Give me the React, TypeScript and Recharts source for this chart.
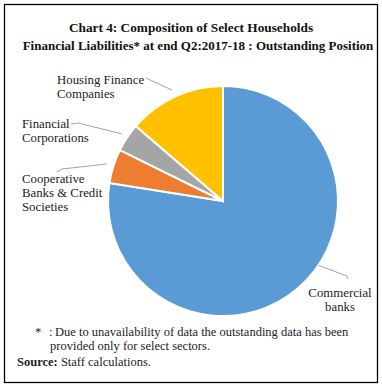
import { PieChart, Pie, Cell } from "recharts";

// shares (per cent of total)
const sectors = [
  "Commercial banks",
  "Cooperative Banks & Credit Societies",
  "Financial Corporations",
  "Housing Finance Companies",
];
const shares = [77.5, 4.8, 4.0, 13.7];
const labelText = [
  ["Commercial", "banks"],
  ["Cooperative", "Banks & Credit", "Societies"],
  ["Financial", "Corporations"],
  ["Housing Finance", "Companies"],
];
const titleLines = [
  "Chart 4: Composition of Select Households",
  "Financial Liabilities* at end Q2:2017-18 : Outstanding Position",
];
const noteLines = [
  "Due to unavailability of data the outstanding data has been",
  "provided only for select sectors.",
];
const sourceText = "Staff calculations.";

const COLORS = ["#5B9BD5", "#ED7D31", "#A5A5A5", "#FFC000"];
const FONT = "'Liberation Serif', 'Times New Roman', serif";
const RAD = Math.PI / 180;

// leader line / label placement relative to the pie centre
const labelLayout = [
  { angle: -34, gap: 0, elbow: [124, 75], end: [125, 78], x: 117, y: 92, anchor: "middle" },
  { angle: null, gap: 7, elbow: [-161, -32], end: [-166, -29], x: -201, y: -22, anchor: "start" },
  { angle: null, gap: 7, elbow: [-145, -78], end: [-152, -77], x: -201, y: -77, anchor: "start" },
  { angle: null, gap: 7, elbow: [-75, -122], end: [-77, -123], x: -166, y: -121, anchor: "start" },
];

const data = sectors.map((name, i) => ({ name, value: shares[i] }));

const renderLabel = (props: any) => {
  const { cx, cy, midAngle, outerRadius, index } = props;
  const l = labelLayout[index];
  const a = (l.angle ?? midAngle) * RAD;
  const r = outerRadius + l.gap;
  const sx = cx + Math.cos(a) * r;
  const sy = cy - Math.sin(a) * r;
  const pts = `${sx},${sy} ${cx + l.elbow[0]},${cy + l.elbow[1]} ${cx + l.end[0]},${cy + l.end[1]}`;
  return (
    <g key={`lbl-${index}`}>
      <polyline points={pts} fill="none" stroke="#8c8c8c" strokeWidth={0.8} />
      {labelText[index].map((t, j) => (
        <text
          key={j}
          x={cx + l.x}
          y={cy + l.y + j * 14 + 4}
          textAnchor={l.anchor as any}
          fontFamily={FONT}
          fontSize={12.8}
          fill="#222"
        >
          {t}
        </text>
      ))}
    </g>
  );
};

export default function App() {
  return (
    <div style={{ position: "absolute", left: 0, top: 0, width: 382, height: 387, background: "#fff" }}>
      <PieChart width={382} height={387} style={{ position: "absolute", left: 0, top: 0 }}>
        <Pie
          data={data}
          dataKey="value"
          nameKey="name"
          cx={218}
          cy={196}
          outerRadius={115}
          startAngle={90}
          endAngle={-270}
          stroke="#ffffff"
          strokeWidth={2}
          label={renderLabel}
          labelLine={false}
          isAnimationActive={false}
        >
          {data.map((d, i) => (
            <Cell key={d.name} fill={COLORS[i]} />
          ))}
        </Pie>
      </PieChart>
      <svg
        width={382}
        height={387}
        style={{ position: "absolute", left: 0, top: 0, pointerEvents: "none" }}
      >
        <rect x={4.5} y={4.5} width={373} height={378} fill="none" stroke="#000" strokeWidth={1.3} />
        <text x={191} y={32} textAnchor="middle" fontFamily={FONT} fontSize={13.3} fontWeight="bold" fill="#111">
          {titleLines[0]}
        </text>
        <text x={198} y={49.5} textAnchor="middle" fontFamily={FONT} fontSize={13} fontWeight="bold" fill="#111">
          {titleLines[1]}
        </text>
        <text x={35} y={336} fontFamily={FONT} fontSize={12.5} fill="#222">*</text>
        <text x={49} y={336} fontFamily={FONT} fontSize={12.5} fill="#222">:</text>
        <text x={55} y={336} fontFamily={FONT} fontSize={12.5} fill="#222">
          {noteLines[0]}
        </text>
        <text x={50} y={349.5} fontFamily={FONT} fontSize={12.5} fill="#222">
          {noteLines[1]}
        </text>
        <text x={17} y={366} fontFamily={FONT} fontSize={12.5} fill="#222">
          <tspan fontWeight="bold">Source:</tspan> {sourceText}
        </text>
      </svg>
    </div>
  );
}
